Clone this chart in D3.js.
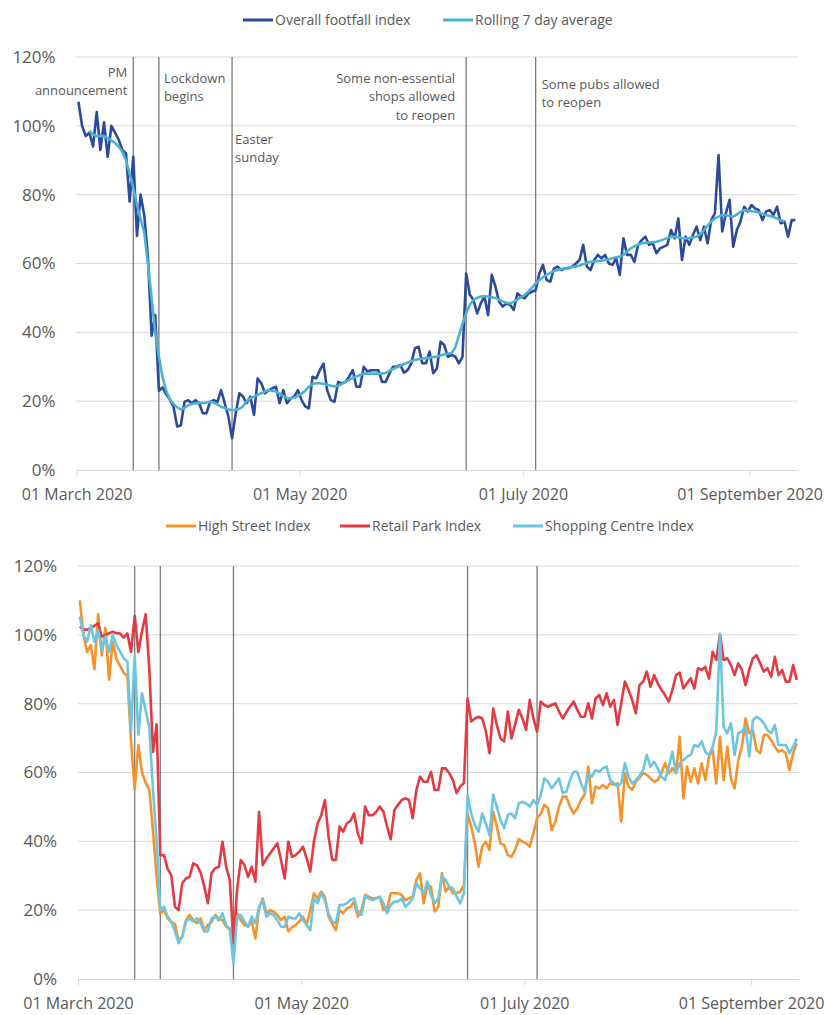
<!DOCTYPE html>
<html>
<head>
<meta charset="utf-8">
<script src="https://cdn.jsdelivr.net/npm/d3@7"></script>
<style>
  body { margin: 0; background: #fff; }
  text { font-family: "Open Sans", sans-serif; fill: #595959; }
</style>
</head>
<body>
<script>
// daily values from 01 March 2020 (index 0) to 13 September 2020 (index 196), in %
const startDay = Date.UTC(2020, 2, 1);

const overallIndex = [
  107, 100, 97, 98, 94, 104, 93, 101, 91, 100,
  98, 96, 93, 92, 78, 91, 68, 80, 74, 62,
  39, 45, 23, 24, 22, 20.5, 18.4, 12.6, 13, 19.8,
  20.3, 19.4, 20.3, 19.4, 16.5, 16.5, 19.8, 20.3, 19.8, 23.2,
  19.4, 15.5, 9.2, 16.5, 22.3, 21.3, 19.4, 21.3, 16, 26.6,
  25.2, 22.3, 23.2, 23.7, 24.2, 19.4, 23.2, 19.4, 20.8, 21.3,
  23.2, 20.3, 18.5, 17.9, 27.1, 26.6, 29, 30.9, 23.2, 20.3,
  19.8, 25.6, 25.2, 25.6, 27.1, 29, 24.2, 24.2, 30, 28.6,
  29, 29, 29, 25.6, 25.6, 28, 30, 30, 30.5, 28.3,
  29, 31, 35.4, 35.8, 31, 31, 34.4, 28.1, 29.5, 37.3,
  36.3, 32.9, 33.4, 33, 31, 32.9, 57.1, 50.9, 49.4, 45.5,
  48.4, 50.4, 45, 56.7, 53.3, 48.9, 47.5, 48.4, 48, 46.5,
  51.3, 50.4, 49.9, 51.3, 51.8, 52.3, 57.1, 59.6, 55.2, 54.7,
  58.6, 59.1, 58.1, 58.6, 58.6, 59.1, 60, 61, 65.4, 59.1,
  58.1, 61, 62.5, 61.5, 62.5, 60, 59.6, 61.5, 56.7, 67.3,
  62.5, 62.5, 60.5, 65.4, 66.8, 67.8, 65.4, 65.9, 63, 64.4,
  64.9, 65.4, 69.7, 67.3, 73.1, 61, 67.8, 65.4, 68.3, 70.7,
  66.8, 70.7, 65.9, 72.6, 74.6, 91.5, 69.3, 74.6, 78.5, 64.9,
  69.7, 72.2, 76.5, 75.1, 77, 76, 75.5, 72.6, 75.1, 75.5,
  74.1, 76.5, 71.7, 72.2, 67.8, 72.6, 72.6
];

const rollingAverage = [
  null, null, null, 98.5, 97.5, 97, 97, 97, 96.5, 95.8,
  95, 94, 92.5, 90, 86, 82, 77, 73, 69, 60,
  50, 40, 33, 27, 23, 20.5, 19.2, 18.2, 17.6, 18,
  18.8, 19.2, 19.4, 19.5, 19.5, 19.6, 19.8, 19.6, 19, 18.4,
  18, 17.6, 17.4, 17.5, 17.8, 18.5, 20, 20.8, 21.3, 21.8,
  22.3, 22.8, 23.2, 23, 22.8, 22.2, 21.5, 21, 20.8, 21,
  21.5, 22.2, 23, 24.2, 25, 25.2, 25.2, 25, 24.8, 24.5,
  24.3, 24.5, 25, 25.6, 26.2, 26.8, 27.2, 27.6, 28, 28,
  28, 28, 28, 28, 28.2, 28.8, 29.3, 29.8, 30.3, 30.8,
  31.2, 31.6, 32, 32.2, 32.4, 32.5, 32.6, 32.8, 33, 33.3,
  33.6, 33.8, 34, 35.5, 39, 42.5, 45.5, 48, 49.4, 50,
  50.4, 50.5, 50.4, 50.2, 50, 49.5, 49, 48.6, 48.4, 48.9,
  49.5, 50.2, 50.9, 51.8, 53, 54.2, 55.2, 56, 56.7, 57.3,
  57.8, 58.1, 58.4, 58.6, 58.8, 59, 59.1, 59.4, 59.8, 60.2,
  60.5, 60.6, 60.7, 60.8, 61, 61.2, 61.5, 61.8, 62, 62.5,
  63.5, 64.4, 65, 65.5, 65.9, 66, 66.1, 66.2, 66.3, 66.6,
  67, 67.4, 67.8, 67.8, 67.6, 67.4, 67.3, 67.4, 67.6, 67.8,
  68.5, 69.7, 71, 72.2, 73.1, 73.6, 74.1, 74, 73.8, 73.6,
  74.2, 75, 75.5, 75.4, 75.2, 75.1, 74.8, 74.4, 74.1, 73.8,
  73.5, 73.1, 72.6, 72.2, null, null, null
];

const highStreet = [
  110, 100, 95, 97, 90, 106, 94, 102, 87, 98,
  93, 91, 89, 88, 69, 55, 68, 60, 57, 55,
  43, 29.5, 19, 20, 17.6, 16.5, 16, 11, 12.3, 17,
  18.6, 17.1, 16.2, 17.6, 14.2, 15.7, 16.5, 18.6, 17.6, 17.1,
  15.2, 14.7, 9.6, 19.1, 17.1, 15.7, 15.2, 16.7, 11.8, 20.5,
  23.4, 19.1, 20, 19.6, 18.5, 17.1, 18.1, 13.8, 15, 15.7,
  16.7, 18.1, 15.7, 20, 24.9, 23.4, 25.4, 23.9, 18.1, 16,
  14.2, 20, 19.1, 20.5, 21, 22.5, 18.1, 20, 24.4, 23.9,
  23.4, 23.5, 23.9, 20, 20.5, 24.9, 24.9, 24.9, 24.4, 22.9,
  23.5, 23.9, 28.8, 30.7, 22, 27.3, 26.8, 19.6, 21, 30.7,
  25.4, 26.8, 24.9, 25, 25.4, 27.3, 48, 44.3, 39.4, 32.6,
  38.5, 39.9, 37.5, 48.6, 44.3, 39.4, 38.9, 36, 35.5, 37.5,
  40.6, 39.9, 39.4, 38.5, 42.3, 46.7, 48, 50.6, 49.6, 43.3,
  45.7, 50.1, 53, 53, 50.1, 48.1, 49.6, 52, 53.5, 61.7,
  51, 55.9, 55.4, 56.4, 55.4, 56.9, 56.4, 56.9, 45.7, 59.8,
  55.9, 55, 57.3, 58.5, 59.8, 59.3, 58.3, 57.3, 57.8, 59.8,
  62.7, 59.8, 61.2, 59.8, 70.4, 52.5, 61.7, 57.3, 61.2, 56.8,
  62.7, 57.8, 64.6, 66.5, 56.8, 70.4, 57.8, 67.5, 58.3, 55.4,
  63.6, 67.5, 75.7, 71.4, 72.3, 66.5, 65.6, 70.9, 70.9, 69.4,
  67.5, 66, 66.5, 65.6, 60.7, 65.6, 68.5
];

const retailPark = [
  102.4, 101.5, 101.5, 102, 102.7, 103.3, 99.5, 99.9, 100.5, 100.9,
  100.5, 100.4, 99.2, 100.4, 95, 105.5, 95, 101, 106, 90,
  66, 74, 36, 36, 32, 30.2, 21, 20, 27.8, 29.2,
  29.7, 33.6, 33, 31, 27, 22, 30.7, 32.2, 32.6, 39.9,
  32.6, 28.8, 10.4, 26, 34.6, 33.1, 29.7, 32.6, 28.3, 48.6,
  33.1, 35, 36.5, 38, 39.4, 34.6, 29.2, 39.9, 35.5, 36,
  37, 38.4, 35.1, 31.2, 40, 45.2, 47.6, 52, 41.3, 34.6,
  34.6, 44.3, 42.8, 45.2, 46, 48.1, 42.3, 39.4, 50.1, 47.6,
  47.6, 48.5, 50.1, 48.6, 44.3, 40.6, 49.1, 50.6, 52, 52.5,
  52, 46.7, 54.9, 58.8, 57.3, 57.3, 60.2, 54.9, 54.9, 61.2,
  61.2, 59.8, 57.8, 54, 55.9, 56.9, 81.5, 74.8, 75.7, 76.2,
  75.7, 72, 65.6, 78.6, 73.8, 69.9, 69, 77.7, 69.9, 74,
  78.2, 75.7, 72.4, 81.1, 75.7, 71.9, 80.6, 79.6, 79.1, 79.6,
  80.1, 77.7, 75.7, 77.5, 79.1, 80.6, 78.2, 76.2, 76.2, 80.1,
  75.7, 81.5, 82.5, 79.6, 83, 79.1, 81.1, 73.8, 80.1, 86.4,
  84, 81.1, 77.2, 85.4, 86.4, 89.3, 84.9, 88.3, 85.9, 84,
  82.5, 80.6, 84, 88.3, 89, 84.4, 85.9, 87.4, 84.4, 90.3,
  89.8, 90.7, 87.3, 95.1, 92.7, 100.2, 92.7, 93.2, 91.2, 88.3,
  91.7, 89.8, 85.4, 89.8, 93.2, 94.1, 91.7, 89.3, 90.3, 87.8,
  93.6, 88.3, 89.8, 86.4, 86.4, 91.2, 86.9
];

const shoppingCentre = [
  105.3, 100, 98, 102.8, 98, 101.4, 95.6, 99.5, 95.1, 100,
  97, 95.1, 93.2, 92.2, 72, 94, 71, 83, 78, 73,
  55, 40, 20, 21, 18.1, 16.7, 14, 10.4, 12.3, 16.7,
  17.6, 16.7, 17.6, 16.2, 13.8, 13.8, 17.6, 18.1, 17, 19.1,
  15.7, 14.2, 4.5, 18.1, 18.6, 16.7, 15.2, 18.1, 16.2, 21,
  22.9, 18.1, 19.1, 18.6, 17, 15.2, 15.2, 18.1, 17.6, 17.6,
  19.1, 17, 15.7, 14.2, 23.4, 22, 24.9, 22.9, 19.1, 16.7,
  16.2, 21.5, 21.5, 22, 23, 23.4, 19.6, 18.6, 23.9, 23.4,
  22.9, 23.4, 23.9, 22, 19.1, 21.5, 22.5, 22.5, 23.4, 21,
  22, 23.4, 27.8, 26.3, 24.9, 28.3, 24.4, 22, 23.4, 29.7,
  28.8, 26.8, 26.3, 24, 22, 24.9, 53.5, 48.1, 44.7, 42.8,
  48.1, 45.2, 41.8, 53.5, 50.1, 46.2, 43.8, 47.7, 48.1, 46.7,
  51, 51.5, 51, 50.1, 52, 50.6, 53.5, 58.3, 57.3, 55.4,
  56.9, 58.3, 54, 54.4, 57.8, 60.2, 60.2, 56.9, 54.4, 59.8,
  58.8, 60.7, 60.2, 61.2, 61.7, 57.8, 56.9, 55.9, 56.9, 62.7,
  58.8, 56.8, 57.8, 59, 60.7, 65.1, 61.7, 63.1, 61.2, 58.8,
  57.8, 61.7, 66, 59.8, 62.7, 63.6, 64.6, 65.1, 68, 67.5,
  69, 66, 65.1, 67.5, 72, 100.2, 73.3, 71.4, 74.3, 65.1,
  71.4, 71.9, 73.3, 64.6, 75.2, 76.2, 75.5, 74.3, 72.3, 71.4,
  73.8, 68, 68, 68, 65.6, 67.5, 69.9
];

const yTicks = [0, 20, 40, 60, 80, 100, 120];
const xTickDates = ['2020-03-01', '2020-05-01', '2020-07-01', '2020-09-01'];
const eventDates = ['2020-03-16', '2020-03-23', '2020-04-12', '2020-06-15', '2020-07-04'];
const eventLabels = [
  ['PM', 'announcement'],
  ['Lockdown', 'begins'],
  ['Easter', 'sunday'],
  ['Some non-essential', 'shops allowed', 'to reopen'],
  ['Some pubs allowed', 'to reopen']
];

const topSeries = [
  { name: 'Overall footfall index', values: overallIndex, color: '#2c4a9c' },
  { name: 'Rolling 7 day average', values: rollingAverage, color: '#4bb3d1' }
];
const bottomSeries = [
  { name: 'High Street Index', values: highStreet, color: '#f7922b' },
  { name: 'Retail Park Index', values: retailPark, color: '#e33b41' },
  { name: 'Shopping Centre Index', values: shoppingCentre, color: '#6cc6e1' }
];

const svg = d3.select('body').append('svg')
  .attr('width', 824)
  .attr('height', 1015);

const parseDay = d3.utcParse('%Y-%m-%d');
const midDay = s => d3.utcHour.offset(parseDay(s), 12);
const dayAt = i => new Date(startDay + i * 864e5 + 432e5);

// label placement for the event notes in the upper chart
const noteLayout = [
  { dx: -6, anchor: 'end', y: 72 },
  { dx: 5, anchor: 'start', y: 78 },
  { dx: 3, anchor: 'start', y: 139 },
  { dx: -11, anchor: 'end', y: 78 },
  { dx: 6, anchor: 'start', y: 84 }
];

let drawPanel = (p, series, withNotes) => {
  const x = d3.scaleUtc()
    .domain([new Date(startDay), new Date(Date.UTC(2020, 8, 14))])
    .range([p.left, p.right]);
  const y = d3.scaleLinear().domain([0, 120]).range([p.bottom, p.top]);

  const g = svg.append('g');

  // horizontal gridlines
  g.append('g').selectAll('line')
    .data(yTicks.filter(t => t > 0))
    .enter().append('line')
    .attr('x1', p.left).attr('x2', p.right)
    .attr('y1', d => y(d)).attr('y2', d => y(d))
    .attr('stroke', '#d9d9d9').attr('stroke-width', 1);

  // y labels
  g.append('g').selectAll('text')
    .data(yTicks)
    .enter().append('text')
    .attr('x', p.left - 21)
    .attr('y', d => y(d))
    .attr('dy', '0.35em')
    .attr('text-anchor', 'end')
    .style('font-size', '17px')
    .text(d => d + '%');

  // date axis
  const xAxis = d3.axisBottom(x)
    .tickValues(xTickDates.map(s => parseDay(s)))
    .tickFormat(d3.utcFormat('%d %B %Y'))
    .tickSize(6)
    .tickSizeOuter(0);
  const ax = g.append('g')
    .attr('transform', 'translate(0,' + p.bottom + ')')
    .call(xAxis);
  ax.select('.domain').attr('stroke', '#d9d9d9');
  ax.selectAll('.tick line').attr('stroke', '#d9d9d9');
  ax.selectAll('.tick text')
    .attr('y', 19)
    .attr('fill', '#595959')
    .style('font-family', '"Open Sans", sans-serif')
    .style('font-size', '16px');

  // event markers
  g.append('g').selectAll('line')
    .data(eventDates)
    .enter().append('line')
    .attr('x1', d => x(midDay(d))).attr('x2', d => x(midDay(d)))
    .attr('y1', p.top).attr('y2', p.bottom)
    .attr('stroke', '#7a7a7a').attr('stroke-width', 1.3);

  if (withNotes) {
    eventDates.forEach((d, i) => {
      const lay = noteLayout[i];
      g.append('text')
        .attr('text-anchor', lay.anchor)
        .style('font-size', '13px')
        .selectAll('tspan')
        .data(eventLabels[i])
        .enter().append('tspan')
        .attr('x', x(midDay(d)) + lay.dx)
        .attr('y', (t, k) => lay.y + k * 18.5)
        .attr('dy', '0.35em')
        .text(t => t);
    });
  }

  const line = d3.line()
    .defined(v => v != null)
    .x((v, i) => x(dayAt(i)))
    .y(v => y(v));

  series.forEach(s => {
    g.append('path')
      .datum(s.values)
      .attr('d', line)
      .attr('fill', 'none')
      .attr('stroke', s.color)
      .attr('stroke-width', 2.6)
      .attr('stroke-linejoin', 'round');
  });

  // legend
  const leg = g.append('g');
  series.forEach((s, i) => {
    const lx = p.legendX[i];
    leg.append('line')
      .attr('x1', lx).attr('x2', lx + 30)
      .attr('y1', p.legendY).attr('y2', p.legendY)
      .attr('stroke', s.color).attr('stroke-width', 3);
    leg.append('text')
      .attr('x', lx + 32)
      .attr('y', p.legendY)
      .attr('dy', '0.35em')
      .style('font-size', '14px')
      .text(s.name);
  });
};

drawPanel({ left: 76.6, right: 797.2, top: 57, bottom: 470, legendY: 20, legendX: [243, 443] }, topSeries, true);
drawPanel({ left: 78, right: 798.6, top: 566, bottom: 979, legendY: 526, legendX: [166, 340, 513] }, bottomSeries, false);
</script>
</body>
</html>
